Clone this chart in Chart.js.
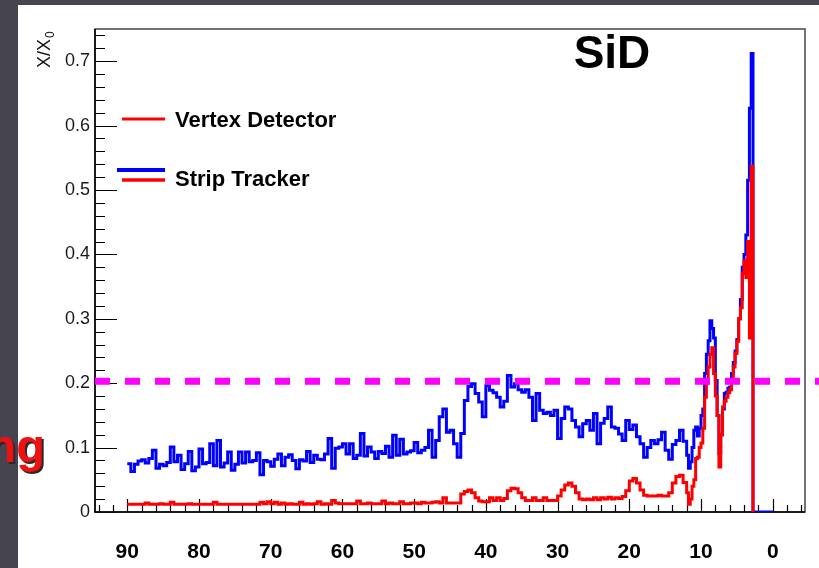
<!DOCTYPE html>
<html>
<head>
<meta charset="utf-8">
<script src="https://cdn.jsdelivr.net/npm/chart.js@4.4.1/dist/chart.umd.min.js"></script>
<style>
  html, body { margin: 0; padding: 0; }
  body { width: 819px; height: 568px; background: #46444f; position: relative; overflow: hidden; }
  #panel { position: absolute; left: 18px; top: 5px; width: 801px; height: 563px; background: #fff; }
  #slideText {
    position: absolute; right: 774px; top: 423px;
    font: bold 47px "Liberation Sans", Arial, sans-serif; line-height: 46px;
    color: #ee1111; text-shadow: 2px 2px 0 #2a2a2a; white-space: nowrap;
  }
</style>
</head>
<body>
<div id="panel"><canvas id="chart" width="801" height="563"></canvas></div>
<div id="slideText">Tracking</div>
<script>
// polar angle (deg) of each bin, left edge of the step
const angle = [
  90, 89.5, 89, 88.5, 88, 87.5, 87, 86.5, 86, 85.5,
  85, 84.5, 84, 83.5, 83, 82.5, 82, 81.5, 81, 80.5,
  80, 79.5, 79, 78.5, 78, 77.5, 77, 76.5, 76, 75.5,
  75, 74.5, 74, 73.5, 73, 72.5, 72, 71.5, 71, 70.5,
  70, 69.5, 69, 68.5, 68, 67.5, 67, 66.5, 66, 65.5,
  65, 64.5, 64, 63.5, 63, 62.5, 62, 61.5, 61, 60.5,
  60, 59.5, 59, 58.5, 58, 57.5, 57, 56.5, 56, 55.5,
  55, 54.5, 54, 53.5, 53, 52.5, 52, 51.5, 51, 50.5,
  50, 49.5, 49, 48.5, 48, 47.5, 47, 46.5, 46, 45.5,
  45, 44.5, 44, 43.5, 43, 42.5, 42, 41.5, 41, 40.5,
  40, 39.5, 39, 38.5, 38, 37.5, 37, 36.5, 36, 35.5,
  35, 34.5, 34, 33.5, 33, 32.5, 32, 31.5, 31, 30.5,
  30, 29.5, 29, 28.5, 28, 27.5, 27, 26.5, 26, 25.5,
  25, 24.5, 24, 23.5, 23, 22.5, 22, 21.5, 21, 20.5,
  20, 19.5, 19, 18.5, 18, 17.5, 17, 16.5, 16, 15.5,
  15, 14.5, 14, 13.5, 13, 12.5, 12,
  11.75, 11.5, 11.25, 11, 10.75, 10.5, 10.25, 10,
  9.75, 9.5, 9.25, 9, 8.75, 8.5, 8.25, 8,
  7.75, 7.5, 7.25, 7, 6.75, 6.5, 6.25, 6,
  5.75, 5.5, 5.25, 5, 4.75, 4.5, 4.25, 4,
  3.75, 3.5, 3.25, 3,
  2.75, 0
];

// X/X0, vertex detector + strip tracker
const trackerX0 = [
  0.075, 0.063, 0.074, 0.079, 0.081, 0.076, 0.083, 0.096, 0.068, 0.074,
  0.072, 0.077, 0.101, 0.078, 0.088, 0.066, 0.075, 0.094, 0.064, 0.070,
  0.098, 0.075, 0.077, 0.106, 0.072, 0.111, 0.070, 0.076, 0.093, 0.065,
  0.074, 0.093, 0.076, 0.093, 0.078, 0.080, 0.092, 0.058, 0.080, 0.078,
  0.071, 0.082, 0.090, 0.072, 0.085, 0.089, 0.080, 0.067, 0.081, 0.079,
  0.094, 0.077, 0.088, 0.082, 0.081, 0.090, 0.114, 0.068, 0.099, 0.101,
  0.106, 0.090, 0.106, 0.083, 0.088, 0.122, 0.087, 0.101, 0.093, 0.083,
  0.094, 0.091, 0.102, 0.085, 0.119, 0.088, 0.113, 0.090, 0.093, 0.095,
  0.108, 0.092, 0.096, 0.100, 0.127, 0.085, 0.111, 0.148, 0.160, 0.124,
  0.127, 0.106, 0.085, 0.122, 0.173, 0.195, 0.199, 0.184, 0.171, 0.148,
  0.196, 0.189, 0.185, 0.178, 0.163, 0.172, 0.212, 0.194, 0.199, 0.190,
  0.186, 0.190, 0.178, 0.142, 0.184, 0.158, 0.153, 0.155, 0.150, 0.158,
  0.114, 0.145, 0.163, 0.160, 0.142, 0.132, 0.117, 0.137, 0.142, 0.127,
  0.153, 0.106, 0.138, 0.145, 0.163, 0.132, 0.130, 0.121, 0.111, 0.142,
  0.128, 0.135, 0.117, 0.106, 0.085, 0.100, 0.111, 0.106, 0.112, 0.124,
  0.096, 0.082, 0.105, 0.111, 0.127, 0.110, 0.088,
  0.068, 0.078, 0.100, 0.127, 0.132, 0.118, 0.130, 0.150,
  0.160, 0.215, 0.245, 0.266, 0.297, 0.285, 0.270, 0.204,
  0.150, 0.091, 0.120, 0.160, 0.184, 0.186, 0.192, 0.194,
  0.215, 0.232, 0.250, 0.268, 0.300, 0.330, 0.380, 0.400,
  0.430, 0.515, 0.627, 0.712,
  0, 0
];

// X/X0, vertex detector only (no entry past the last bin)
const vertexX0 = [
  0.012, 0.012, 0.012, 0.012, 0.012, 0.014, 0.012, 0.012, 0.012, 0.013,
  0.012, 0.012, 0.015, 0.012, 0.012, 0.012, 0.012, 0.013, 0.012, 0.012,
  0.012, 0.012, 0.012, 0.012, 0.015, 0.012, 0.012, 0.012, 0.012, 0.012,
  0.012, 0.012, 0.012, 0.012, 0.012, 0.012, 0.012, 0.015, 0.013, 0.016,
  0.013, 0.015, 0.012, 0.014, 0.012, 0.013, 0.012, 0.012, 0.015, 0.012,
  0.013, 0.012, 0.013, 0.016, 0.012, 0.013, 0.012, 0.018, 0.014, 0.013,
  0.013, 0.013, 0.013, 0.013, 0.017, 0.013, 0.013, 0.014, 0.013, 0.013,
  0.013, 0.017, 0.013, 0.014, 0.013, 0.013, 0.016, 0.013, 0.013, 0.014,
  0.014, 0.013, 0.015, 0.014, 0.014, 0.015, 0.016, 0.014, 0.022, 0.014,
  0.014, 0.014, 0.014, 0.028, 0.032, 0.034, 0.030, 0.022, 0.017, 0.016,
  0.016, 0.022, 0.018, 0.022, 0.018, 0.021, 0.033, 0.037, 0.036, 0.030,
  0.022, 0.018, 0.018, 0.022, 0.018, 0.018, 0.022, 0.018, 0.018, 0.018,
  0.025, 0.034, 0.042, 0.045, 0.040, 0.030, 0.020, 0.019, 0.020, 0.019,
  0.022, 0.019, 0.022, 0.020, 0.023, 0.020, 0.022, 0.021, 0.024, 0.033,
  0.048, 0.052, 0.045, 0.034, 0.026, 0.025, 0.025, 0.025, 0.026, 0.025,
  0.025, 0.030, 0.045, 0.055, 0.057, 0.046, 0.030,
  0.012, 0.020, 0.040, 0.050, 0.083, 0.085, 0.100, 0.107,
  0.130, 0.178, 0.200, 0.225, 0.245, 0.255, 0.215, 0.180,
  0.150, 0.070, 0.120, 0.163, 0.172, 0.178, 0.185, 0.190,
  0.204, 0.225, 0.246, 0.265, 0.300, 0.317, 0.370, 0.390,
  0.364, 0.420, 0.270, 0.537,
  0, null
];

// horizontal reference level drawn across the plot
const refLevel = 0.203;
const refRange = [94.5, -6.5];

const xTicks = [90, 80, 70, 60, 50, 40, 30, 20, 10, 0];
const yTicks = [0, 0.1, 0.2, 0.3, 0.4, 0.5, 0.6, 0.7];

const FONT = '"Liberation Sans", Arial, Helvetica, sans-serif';

// ROOT-style frame with inward ticks, legend, labels
const rootFrame = {
  id: 'rootFrame',
  beforeDatasetsDraw(chart) {
    const { ctx, chartArea: a, scales: { x, y } } = chart;
    ctx.save();
    ctx.strokeStyle = '#000';
    ctx.lineWidth = 1.2;
    ctx.beginPath();
    for (let i = 0; i <= 37; i++) {
      const v = i * 0.02;
      const py = Math.round(y.getPixelForValue(v)) + 0.5;
      const len = i % 5 === 0 ? 22 : 10;
      ctx.moveTo(a.left, py);
      ctx.lineTo(a.left + len, py);
    }
    for (let v = -4; v <= 94; v += 2) {
      const px = Math.round(x.getPixelForValue(v)) + 0.5;
      const len = v % 10 === 0 ? 13 : 7;
      ctx.moveTo(px, a.bottom);
      ctx.lineTo(px, a.bottom - len);
    }
    ctx.stroke();

    ctx.lineWidth = 1.5;
    ctx.strokeStyle = '#444';
    ctx.strokeRect(a.left, a.top, a.right - a.left, a.bottom - a.top);
    ctx.strokeStyle = '#000';
    ctx.beginPath();
    ctx.moveTo(a.left, a.top);
    ctx.lineTo(a.left, a.bottom);
    ctx.lineTo(a.right, a.bottom);
    ctx.stroke();
    ctx.restore();
  },
  afterDraw(chart) {
    const { ctx } = chart;
    ctx.save();
    // legend
    ctx.lineWidth = 3;
    ctx.strokeStyle = '#ff0000';
    ctx.beginPath(); ctx.moveTo(104, 114); ctx.lineTo(147, 114); ctx.stroke();
    ctx.lineWidth = 4;
    ctx.strokeStyle = '#0000ff';
    ctx.beginPath(); ctx.moveTo(99, 165); ctx.lineTo(147, 165); ctx.stroke();
    ctx.lineWidth = 3.5;
    ctx.strokeStyle = '#ff0000';
    ctx.beginPath(); ctx.moveTo(104, 175); ctx.lineTo(147, 175); ctx.stroke();

    ctx.fillStyle = '#000';
    ctx.font = 'bold 22px ' + FONT;
    ctx.textAlign = 'left';
    ctx.textBaseline = 'middle';
    ctx.fillText('Vertex Detector', 157, 116);
    ctx.fillText('Strip Tracker', 157, 175);

    ctx.font = 'bold 46px ' + FONT;
    ctx.textAlign = 'center';
    ctx.fillText('SiD', 594, 50);

    // y-axis title X/X0
    ctx.translate(32, 63);
    ctx.rotate(-Math.PI / 2);
    ctx.textAlign = 'left';
    ctx.textBaseline = 'alphabetic';
    ctx.font = '18px ' + FONT;
    ctx.fillStyle = '#111';
    ctx.fillText('X/X', 0, 0);
    const w = ctx.measureText('X/X').width;
    ctx.font = '12px ' + FONT;
    ctx.fillText('0', w + 1, 4);
    ctx.restore();
  }
};

const toPoints = (xs, ys) => xs.map((a, i) => ({ x: a, y: ys[i] }));

new Chart(document.getElementById('chart').getContext('2d'), {
  type: 'line',
  data: {
    datasets: [
      {
        label: 'reference',
        data: refRange.map(a => ({ x: a, y: refLevel })),
        borderColor: '#ff00ff',
        borderWidth: 7,
        borderDash: [15, 15],
        pointRadius: 0,
        clip: false,
        order: 0
      },
      {
        label: 'Vertex Detector',
        data: toPoints(angle, vertexX0),
        borderColor: '#ff0000',
        borderWidth: 3,
        stepped: true,
        pointRadius: 0,
        order: 1
      },
      {
        label: 'Strip Tracker',
        data: toPoints(angle, trackerX0),
        borderColor: '#0000ff',
        borderWidth: 3,
        stepped: true,
        pointRadius: 0,
        order: 2
      }
    ]
  },
  options: {
    responsive: false,
    animation: false,
    devicePixelRatio: 1,
    layout: { padding: { top: 24, right: 14, left: 0, bottom: 0 } },
    plugins: { legend: { display: false }, tooltip: { enabled: false } },
    scales: {
      x: {
        type: 'linear',
        reverse: true,
        min: -4.5,
        max: 94.5,
        afterBuildTicks: s => { s.ticks = xTicks.map(v => ({ value: v })); },
        afterFit: s => { s.height = 56; },
        grid: { display: false, drawTicks: false },
        border: { display: false },
        ticks: {
          padding: 28,
          color: '#000',
          font: { family: FONT, size: 21, weight: 'bold' },
          maxRotation: 0
        }
      },
      y: {
        type: 'linear',
        min: 0,
        max: 0.75,
        afterBuildTicks: s => { s.ticks = yTicks.map(v => ({ value: v })); },
        afterFit: s => { s.width = 77; },
        grid: { display: false, drawTicks: false },
        border: { display: false },
        ticks: {
          padding: 5,
          color: '#1a1a1a',
          font: { family: FONT, size: 18 },
          callback: v => String(Math.round(v * 10) / 10)
        }
      }
    }
  },
  plugins: [rootFrame]
});
</script>
</body>
</html>
